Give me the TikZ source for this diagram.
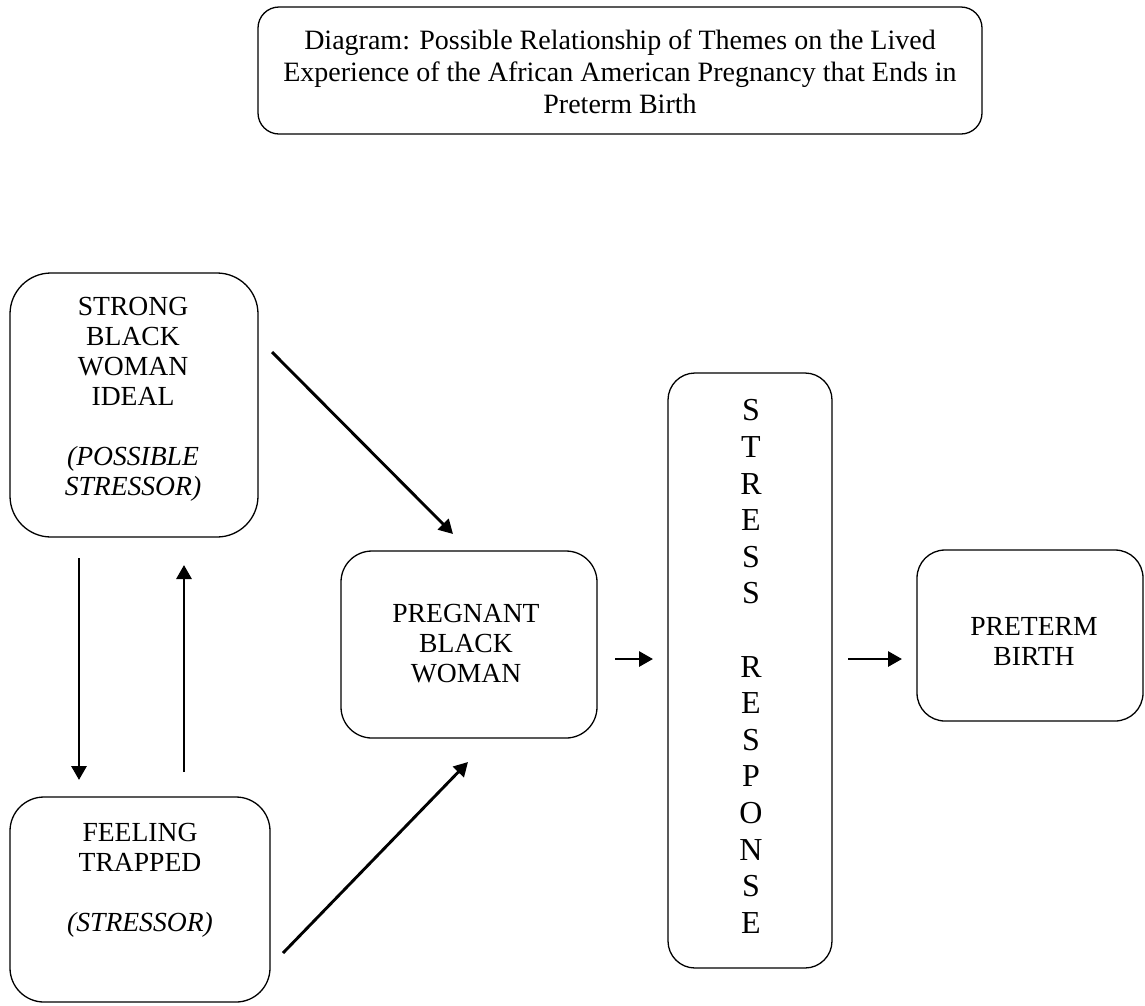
\documentclass[tikz,border=0pt]{standalone}
\usepackage{fontspec}
\setmainfont{Liberation Serif}
\usetikzlibrary{arrows.meta}
\begin{document}
\begin{tikzpicture}[x=1pt,y=-1pt,
  box/.style={draw=black, line width=1.3pt, inner sep=0pt, rounded corners=#1},
  box/.default=30pt,
  txt/.style={align=center, inner sep=0pt, font=\fontsize{27.6}{30}\selectfont},
  arr/.style={line width=2.9pt, -{Triangle[length=14pt,width=15pt]}}]
\useasboundingbox (0,0) rectangle (1145,1005);

% boxes
\node[box=21pt, minimum width=724pt, minimum height=127pt] (title) at (620,70.5) {};
\node[box=41pt, minimum width=248pt, minimum height=264pt] (strong) at (134,405) {};
\node[box=34pt, minimum width=260pt, minimum height=205pt] (feeling) at (140,899.5) {};
\node[box=31pt, minimum width=256pt, minimum height=187pt] (pregnant) at (469,644.5) {};
\node[box=27pt, minimum width=164pt, minimum height=595pt] (stress) at (750,670.5) {};
\node[box=28pt, minimum width=226pt, minimum height=171pt] (preterm) at (1030,635.5) {};

% texts
\node[txt, font=\fontsize{28}{32}\selectfont] (titleT) at (620,72)
  {Diagram: Possible Relationship of Themes on the Lived\\Experience of the African American Pregnancy that Ends in\\Preterm Birth};
\node[txt] (strongT) at (133,399)
  {STRONG\\BLACK\\WOMAN\\IDEAL\\[30pt]\textit{(POSSIBLE}\\\textit{STRESSOR)}};
\node[txt] (feelingT) at (140,880)
  {FEELING\\TRAPPED\\[30pt]\textit{(STRESSOR)}};
\node[txt] (pregnantT) at (466,644)
  {PREGNANT\\BLACK\\WOMAN};
\node[txt] (pretermT) at (1034,641)
  {PRETERM\\BIRTH};
\node[txt, font=\fontsize{32}{36.6}\selectfont] (stressT) at (751,666.5)
  {S\\T\\R\\E\\S\\S\\[36.6pt]R\\E\\S\\P\\O\\N\\S\\E};

% arrow end points
\coordinate (a1s) at (272,352);
\coordinate (a1e) at (453,534);
\coordinate (a2s) at (283,953);
\coordinate (a2e) at (468,762);
\coordinate (a3s) at (79,558);
\coordinate (a3e) at (79,780);
\coordinate (a4s) at (184,772);
\coordinate (a4e) at (184,565);
\coordinate (a5s) at (615,659);
\coordinate (a5e) at (653,659);
\coordinate (a6s) at (848,659);
\coordinate (a6e) at (902,659);

\draw[arr] (a1s) -- (a1e);
\draw[arr] (a2s) -- (a2e);
\draw[arr] (a3s) -- (a3e);
\draw[arr] (a4s) -- (a4e);
\draw[arr] (a5s) -- (a5e);
\draw[arr] (a6s) -- (a6e);
\end{tikzpicture}
\end{document}
